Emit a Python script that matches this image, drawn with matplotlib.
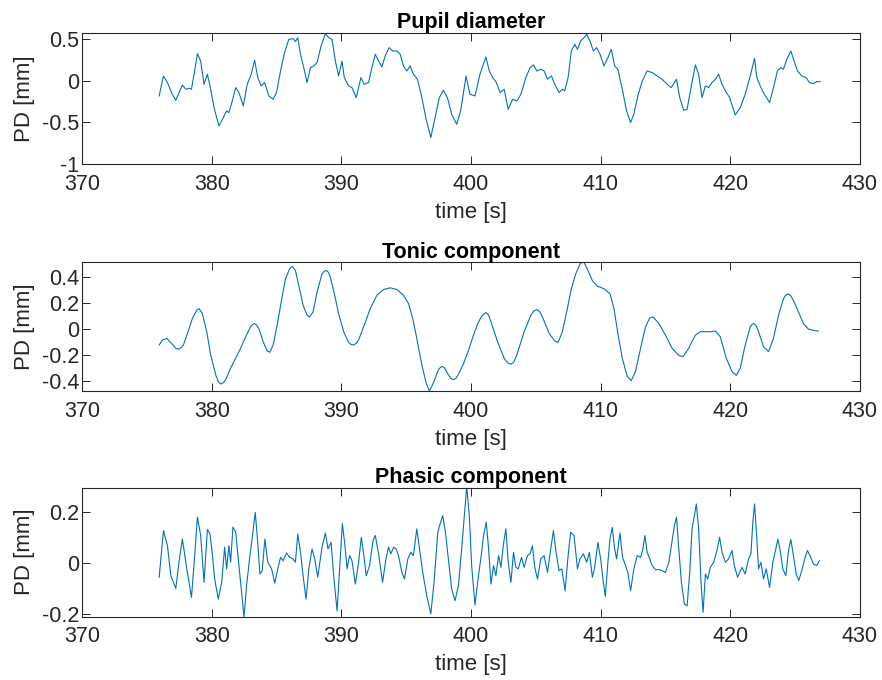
import matplotlib
matplotlib.use("Agg")
import matplotlib.pyplot as plt

plt.rcParams["font.family"] = ["Liberation Sans", "DejaVu Sans"]
plt.rcParams["axes.unicode_minus"] = False

# pupil diameter (raw signal)
pupil_t = [375.95, 376.28, 376.59, 376.9, 377.23, 377.49, 377.74, 378.0, 378.26, 378.44,
           378.64, 378.9, 379.15, 379.41, 379.67, 379.92, 380.18, 380.56, 380.9, 381.15,
           381.33, 381.59, 381.85, 382.1, 382.44, 382.74, 383.05, 383.31, 383.56, 383.82,
           384.08, 384.41, 384.74, 385.0, 385.31, 385.62, 385.95, 386.28, 386.46, 386.64,
           386.85, 387.1, 387.36, 387.62, 387.87, 388.13, 388.44, 388.77, 389.03, 389.28,
           389.54, 389.79, 390.05, 390.23, 390.56, 390.82, 391.15, 391.51, 391.77, 392.1,
           392.36, 392.62, 392.87, 393.13, 393.38, 393.69, 393.95, 394.28, 394.54, 394.79,
           395.05, 395.31, 395.56, 395.87, 396.21, 396.54, 396.9, 397.23, 397.56, 397.87,
           398.18, 398.51, 398.9, 399.2, 399.62, 399.92, 400.31, 400.69, 401.15, 401.41,
           401.67, 401.92, 402.26, 402.56, 402.87, 403.21, 403.54, 403.85, 404.23, 404.56,
           404.82, 405.08, 405.38, 405.64, 405.9, 406.21, 406.46, 406.79, 407.05, 407.23,
           407.49, 407.74, 408.0, 408.21, 408.46, 408.72, 408.92, 409.18, 409.44, 409.69,
           409.95, 410.26, 410.56, 410.82, 411.08, 411.33, 411.67, 412.0, 412.31, 412.56,
           412.87, 413.21, 413.59, 413.97, 414.36, 414.74, 415.13, 415.44, 415.85, 416.1,
           416.41, 416.67, 416.97, 417.31, 417.56, 417.82, 418.08, 418.33, 418.59, 418.85,
           419.1, 419.36, 419.62, 419.95, 420.38, 420.77, 421.15, 421.54, 421.87, 422.05,
           422.31, 422.62, 423.03, 423.33, 423.64, 423.9, 424.1, 424.36, 424.67, 424.92,
           425.18, 425.51, 425.85, 426.1, 426.41, 426.67, 426.92]
pupil_v = [-0.184, 0.056, -0.024, -0.144, -0.236, -0.144, -0.052, -0.104, -0.092, -0.104,
           0.076, 0.324, 0.236, -0.044, 0.076, -0.104, -0.324, -0.544, -0.444, -0.364,
           -0.384, -0.244, -0.084, -0.144, -0.304, -0.044, 0.076, 0.244, 0.036, -0.064,
           -0.024, -0.184, -0.224, -0.144, 0.116, 0.336, 0.496, 0.504, 0.468, 0.516,
           0.316, 0.156, -0.024, 0.156, 0.176, 0.216, 0.416, 0.564, 0.516, 0.496,
           0.236, 0.056, 0.236, 0.036, -0.064, -0.084, -0.204, 0.036, -0.044, -0.024,
           0.156, 0.316, 0.236, 0.164, 0.296, 0.396, 0.356, 0.356, 0.316, 0.176,
           0.116, 0.176, 0.076, 0.016, -0.204, -0.464, -0.684, -0.444, -0.204, -0.116,
           -0.204, -0.404, -0.524, -0.364, 0.056, -0.164, -0.184, 0.076, 0.284, 0.116,
           0.036, -0.012, -0.144, -0.104, -0.344, -0.224, -0.244, -0.164, 0.036, 0.156,
           0.188, 0.116, 0.136, 0.116, 0.016, 0.056, -0.044, -0.144, -0.104, -0.124,
           0.036, 0.356, 0.436, 0.376, 0.476, 0.516, 0.556, 0.476, 0.356, 0.396,
           0.316, 0.176, 0.276, 0.376, 0.176, 0.136, -0.104, -0.364, -0.504, -0.404,
           -0.184, -0.004, 0.116, 0.096, 0.056, 0.016, -0.044, -0.084, 0.016, -0.204,
           -0.356, -0.344, -0.084, 0.188, 0.076, -0.204, -0.064, -0.084, -0.024, 0.016,
           0.076, -0.044, -0.124, -0.204, -0.412, -0.324, -0.164, 0.056, 0.268, 0.036,
           -0.064, -0.164, -0.264, -0.084, 0.116, 0.156, 0.136, 0.256, 0.356, 0.236,
           0.116, 0.056, 0.036, -0.024, -0.036, -0.012, -0.012]

# tonic component
tonic_t = [375.95, 376.2, 376.54, 376.9, 377.23, 377.49, 377.82, 378.13, 378.51, 378.85,
           379.03, 379.28, 379.62, 379.92, 380.31, 380.5, 380.69, 380.88, 381.08, 381.46,
           381.85, 382.23, 382.62, 383.0, 383.15, 383.31, 383.47, 383.64, 383.97, 384.28,
           384.49, 384.74, 385.05, 385.36, 385.69, 386.03, 386.23, 386.46, 386.72, 387.05,
           387.36, 387.56, 387.82, 388.13, 388.51, 388.7, 388.85, 389.0, 389.15, 389.46,
           389.79, 390.18, 390.56, 390.75, 390.95, 391.15, 391.33, 391.77, 392.23, 392.74,
           393.26, 393.77, 394.28, 394.79, 395.18, 395.51, 395.82, 396.21, 396.54, 396.79,
           397.1, 397.49, 397.65, 397.82, 398.0, 398.18, 398.42, 398.64, 398.84, 399.03,
           399.41, 399.79, 400.18, 400.51, 400.82, 401.15, 401.35, 401.54, 402.05, 402.56,
           402.82, 403.08, 403.3, 403.54, 404.1, 404.62, 404.85, 405.08, 405.3, 405.51,
           406.03, 406.46, 406.72, 407.05, 407.38, 407.74, 408.08, 408.41, 408.67, 408.97,
           409.36, 409.74, 410.26, 410.72, 411.03, 411.33, 411.67, 412.05, 412.36, 412.69,
           413.08, 413.46, 413.79, 414.05, 414.49, 415.0, 415.51, 416.03, 416.36, 416.79,
           417.31, 417.69, 418.08, 418.46, 418.85, 419.23, 419.69, 420.13, 420.46, 420.77,
           421.15, 421.54, 421.7, 421.85, 422.0, 422.18, 422.56, 422.95, 423.33, 423.72,
           424.1, 424.3, 424.49, 424.68, 424.87, 425.26, 425.64, 426.03, 426.41, 426.79]
tonic_v = [-0.123, -0.084, -0.072, -0.110, -0.148, -0.156, -0.123, -0.033, 0.082, 0.146,
           0.158, 0.120, -0.020, -0.199, -0.352, -0.405, -0.424, -0.415, -0.391, -0.301,
           -0.225, -0.148, -0.059, 0.018, 0.036, 0.043, 0.032, 0.005, -0.097, -0.169,
           -0.179, -0.123, 0.031, 0.209, 0.388, 0.470, 0.485, 0.452, 0.337, 0.184,
           0.107, 0.094, 0.133, 0.286, 0.427, 0.448, 0.452, 0.440, 0.401, 0.273,
           0.120, -0.020, -0.102, -0.118, -0.123, -0.110, -0.084, 0.031, 0.158, 0.261,
           0.306, 0.319, 0.306, 0.261, 0.197, 0.082, -0.072, -0.276, -0.416, -0.478,
           -0.416, -0.314, -0.294, -0.289, -0.305, -0.340, -0.378, -0.391, -0.380, -0.350,
           -0.270, -0.170, -0.050, 0.040, 0.100, 0.128, 0.110, 0.056, -0.097, -0.225,
           -0.260, -0.271, -0.255, -0.199, -0.020, 0.107, 0.140, 0.151, 0.135, 0.094,
           -0.033, -0.092, -0.102, -0.020, 0.133, 0.312, 0.427, 0.503, 0.525, 0.465,
           0.375, 0.332, 0.312, 0.273, 0.158, -0.033, -0.225, -0.365, -0.398, -0.327,
           -0.148, 0.018, 0.087, 0.094, 0.043, -0.046, -0.148, -0.204, -0.212, -0.148,
           -0.046, -0.020, -0.020, -0.020, -0.015, -0.059, -0.225, -0.327, -0.358, -0.301,
           -0.123, 0.018, 0.038, 0.043, 0.025, -0.020, -0.135, -0.174, -0.072, 0.107,
           0.235, 0.265, 0.273, 0.255, 0.222, 0.133, 0.043, 0.000, -0.010, -0.015]

# phasic component
phasic_t = [375.95, 376.28, 376.59, 376.85, 377.23, 377.49, 377.74, 378.08, 378.44, 378.69,
            378.9, 379.15, 379.41, 379.67, 379.87, 380.05, 380.23, 380.51, 380.77, 381.0,
            381.15, 381.33, 381.46, 381.64, 381.85, 382.1, 382.31, 382.49, 382.69, 382.95,
            383.15, 383.36, 383.51, 383.72, 383.9, 384.1, 384.33, 384.62, 384.87, 385.1,
            385.31, 385.51, 385.77, 386.03, 386.28, 386.46, 386.64, 386.85, 387.05, 387.28,
            387.49, 387.74, 387.95, 388.18, 388.51, 388.77, 388.97, 389.21, 389.41, 389.67,
            389.87, 390.08, 390.28, 390.44, 390.64, 390.82, 391.08, 391.33, 391.54, 391.72,
            391.92, 392.18, 392.44, 392.62, 392.87, 393.18, 393.44, 393.64, 393.82, 394.03,
            394.23, 394.41, 394.67, 394.87, 395.13, 395.36, 395.56, 395.82, 396.03, 396.28,
            396.59, 396.9, 397.15, 397.44, 397.62, 397.82, 398.03, 398.26, 398.51, 398.77,
            399.03, 399.28, 399.49, 399.67, 399.87, 400.05, 400.31, 400.51, 400.77, 400.97,
            401.18, 401.36, 401.54, 401.74, 401.92, 402.13, 402.31, 402.49, 402.69, 402.87,
            403.08, 403.28, 403.46, 403.64, 403.9, 404.1, 404.36, 404.56, 404.74, 404.92,
            405.13, 405.38, 405.64, 405.9, 406.15, 406.36, 406.56, 406.79, 407.0, 407.26,
            407.49, 407.69, 407.95, 408.21, 408.41, 408.67, 408.92, 409.13, 409.36, 409.54,
            409.79, 410.0, 410.21, 410.36, 410.56, 410.72, 410.9, 411.08, 411.23, 411.49,
            411.69, 411.92, 412.1, 412.31, 412.56, 412.82, 413.08, 413.26, 413.41, 413.59,
            413.79, 413.97, 414.23, 414.49, 414.74, 415.0, 415.26, 415.51, 415.69, 415.85,
            416.03, 416.23, 416.46, 416.67, 416.87, 417.05, 417.23, 417.38, 417.56, 417.74,
            417.9, 418.08, 418.26, 418.46, 418.72, 418.97, 419.18, 419.36, 419.62, 419.87,
            420.13, 420.31, 420.56, 420.9, 421.15, 421.41, 421.59, 421.74, 421.87, 422.0,
            422.18, 422.36, 422.56, 422.77, 423.03, 423.28, 423.51, 423.67, 423.85, 424.05,
            424.28, 424.49, 424.67, 424.87, 425.08, 425.28, 425.51, 425.77, 425.95, 426.15,
            426.41, 426.67, 426.87]
phasic_v = [-0.056, 0.127, 0.068, -0.050, -0.100, 0.009, 0.094, -0.023, -0.135, 0.029,
            0.180, 0.108, -0.076, 0.131, 0.114, 0.036, -0.063, -0.142, -0.076, 0.062,
            -0.023, 0.068, 0.003, 0.141, 0.121, -0.010, -0.115, -0.212, -0.089, 0.029,
            0.108, 0.199, 0.108, -0.043, -0.030, 0.094, 0.003, -0.023, -0.079, -0.023,
            0.022, 0.009, 0.039, 0.022, 0.016, 0.003, 0.114, 0.042, -0.050, -0.142,
            -0.023, 0.055, 0.016, -0.056, 0.062, 0.118, 0.055, 0.081, -0.050, -0.188,
            -0.023, 0.154, 0.068, -0.023, 0.029, 0.009, -0.083, 0.003, 0.101, 0.036,
            -0.050, -0.010, 0.088, 0.108, 0.036, -0.076, 0.016, 0.062, 0.036, 0.062,
            0.055, 0.029, -0.037, -0.063, 0.016, 0.042, 0.029, 0.134, 0.055, -0.037,
            -0.128, -0.200, -0.076, 0.121, 0.154, 0.186, 0.121, 0.016, -0.102, -0.148,
            -0.089, 0.055, 0.186, 0.300, 0.186, -0.010, -0.165, -0.076, 0.022, 0.108,
            0.160, 0.055, -0.083, -0.010, -0.050, 0.029, -0.017, 0.068, 0.134, 0.003,
            -0.076, 0.042, -0.017, -0.023, 0.022, -0.017, 0.029, 0.036, 0.068, -0.017,
            -0.063, 0.016, 0.029, -0.037, 0.055, 0.127, 0.042, -0.030, -0.023, -0.109,
            0.029, 0.121, 0.108, -0.023, 0.016, 0.036, 0.003, 0.042, -0.056, -0.017,
            0.081, 0.016, -0.076, -0.131, 0.003, 0.094, 0.140, 0.055, 0.016, 0.118,
            0.022, -0.010, -0.037, -0.109, -0.023, 0.029, 0.022, 0.055, 0.108, 0.042,
            0.016, -0.010, -0.026, -0.026, -0.030, -0.037, 0.003, 0.088, 0.147, 0.180,
            0.055, -0.076, -0.161, -0.168, -0.037, 0.134, 0.186, 0.232, 0.134, -0.076,
            -0.194, -0.043, -0.063, -0.017, 0.003, 0.049, 0.101, 0.042, 0.003, 0.016,
            0.049, -0.010, -0.056, -0.017, -0.043, 0.016, 0.036, 0.160, 0.232, 0.134,
            -0.023, 0.003, -0.063, -0.023, -0.096, 0.003, 0.055, 0.094, 0.049, -0.023,
            -0.050, 0.049, 0.092, 0.029, -0.043, -0.069, -0.030, 0.022, 0.049, 0.029,
            -0.004, -0.010, 0.009]

titles = ["Pupil diameter", "Tonic component", "Phasic component"]
x_ticks = [370, 380, 390, 400, 410, 420, 430]
y_ticks = [[-1, -0.5, 0, 0.5], [-0.4, -0.2, 0, 0.2, 0.4], [-0.2, 0, 0.2]]
y_ticklabels = [["-1", "-0.5", "0", "0.5"],
                ["-0.4", "-0.2", "0", "0.2", "0.4"],
                ["-0.2", "0", "0.2"]]
y_limits = [(-1.0, 0.576), (-0.478, 0.52), (-0.211, 0.296)]

series = [(pupil_t, pupil_v), (tonic_t, tonic_v), (phasic_t, phasic_v)]
boxes = [[0.093, 0.759, 0.882, 0.193],
         [0.093, 0.425, 0.882, 0.190],
         [0.093, 0.093, 0.882, 0.190]]

dark = "#262626"
fig = plt.figure(figsize=(8.82, 6.8), dpi=100)

for i, (t, v) in enumerate(series):
    ax = fig.add_axes(boxes[i])
    ax.plot(t, v, color="#0072BD", lw=0.8)
    ax.set_xlim(370, 430)
    ax.set_ylim(*y_limits[i])
    ax.set_xticks(x_ticks)
    ax.set_xticklabels([str(x) for x in x_ticks])
    ax.set_yticks(y_ticks[i])
    ax.set_yticklabels(y_ticklabels[i], va="center_baseline")
    ax.tick_params(direction="in", length=6, width=0.7, colors=dark,
                   labelsize=15.5, top=True, right=True, pad=7)
    ax.tick_params(axis="y", pad=2)
    for s in ax.spines.values():
        s.set_color(dark)
        s.set_linewidth(0.8)
    ax.set_title(titles[i], fontsize=15.5, fontweight="bold", color="black", pad=3)
    ax.set_xlabel("time [s]", fontsize=16, color=dark, labelpad=5)
    ax.set_ylabel("PD [mm]", fontsize=16, color=dark, labelpad=5)

fig.savefig("out.png", dpi=100)
plt.close(fig)
